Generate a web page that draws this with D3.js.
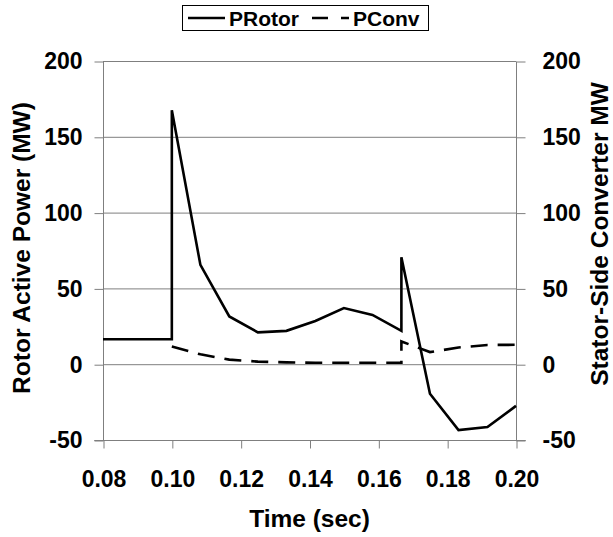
<!DOCTYPE html>
<html>
<head>
<meta charset="UTF-8">
<title>Rotor power</title>
<script src="https://d3js.org/d3.v7.min.js"></script>
<style>
  body { margin: 0; background: #fff; }
  text { font-family: "Liberation Sans", Arial, sans-serif; font-weight: bold; fill: #000; }
</style>
</head>
<body>
<div id="chart"></div>
<script>
// time samples (sec), spaced one half-cycle apart
const times = [0.08, 0.10, 0.10, 0.1083, 0.1167, 0.125, 0.1333, 0.1417, 0.15, 0.1583, 0.1667, 0.1667, 0.175, 0.1833, 0.1917, 0.20];
const pRotor = [16.5, 16.5, 167.5, 65.5, 31.5, 21, 22, 28.5, 37, 32.5, 22, 70.5, -19.5, -43.5, -41.5, -27.5];
const convTimes = [0.10, 0.1083, 0.1167, 0.125, 0.1333, 0.1417, 0.15, 0.1583, 0.1667, 0.1667, 0.175, 0.1833, 0.1917, 0.20];
const pConv = [11.6, 6.5, 3, 1.7, 1.2, 1, 1, 1, 1, 15, 8, 11, 12.7, 12.8];
const xTicks = [0.08, 0.10, 0.12, 0.14, 0.16, 0.18, 0.20];
const yTicks = [-50, 0, 50, 100, 150, 200];

const W = 613, H = 537;
const m = { left: 103, right: 97, top: 61, bottom: 97 };

const svg = d3.select("#chart").append("svg")
  .attr("width", W).attr("height", H);

const x = d3.scaleLinear().domain([0.08, 0.20]).range([m.left, W - m.right]);
const y = d3.scaleLinear().domain([-50, 200]).range([H - m.bottom, m.top]);
const y2 = d3.scaleLinear().domain([-50, 200]).range([H - m.bottom, m.top]);

const grey = "#7f7f7f";
const tickFont = "23px";
const titleFont = "24.5px";
const intFmt = d => String(d);   // plain hyphen for negatives

// horizontal gridlines
svg.append("g").selectAll("line").data(yTicks).join("line")
  .attr("x1", m.left).attr("x2", W - m.right)
  .attr("y1", d => y(d) + 0.5).attr("y2", d => y(d) + 0.5)
  .attr("stroke", grey).attr("stroke-width", 1);

// left axis
const gl = svg.append("g").attr("transform", `translate(${m.left + 0.5},0.5)`)
  .call(d3.axisLeft(y).tickValues(yTicks).tickSize(9).tickPadding(12).tickFormat(intFmt));
gl.selectAll("text").style("font-size", tickFont);

// right axis
const gr = svg.append("g").attr("transform", `translate(${W - m.right + 0.5},0.5)`)
  .call(d3.axisRight(y2).tickValues(yTicks).tickSize(9).tickPadding(17).tickFormat(intFmt));
gr.selectAll("text").style("font-size", tickFont);

// bottom axis
const gb = svg.append("g").attr("transform", `translate(0.5,${H - m.bottom + 0.5})`)
  .call(d3.axisBottom(x).tickValues(xTicks).tickSize(8).tickPadding(22).tickFormat(d3.format(".2f")));
gb.selectAll("text").style("font-size", tickFont);

svg.selectAll(".domain").attr("stroke", grey);
svg.selectAll(".tick line").attr("stroke", grey);
gl.select(".domain").attr("d", `M-9,${y(-50)}H0V${y(200)}`);
gr.select(".domain").attr("d", `M9,${y(-50)}H0V${y(200)}`);
gb.select(".domain").attr("d", `M${m.left - 9},0H${W - m.right + 9}`);

// series
svg.append("path")
  .datum(d3.zip(times, pRotor))
  .attr("d", d3.line().x(d => x(d[0])).y(d => y(d[1])))
  .attr("fill", "none").attr("stroke", "#000").attr("stroke-width", 2.6);
svg.append("path")
  .datum(d3.zip(convTimes, pConv))
  .attr("d", d3.line().x(d => x(d[0])).y(d => y2(d[1])))
  .attr("fill", "none").attr("stroke", "#000").attr("stroke-width", 2.6)
  .attr("stroke-dasharray", "17,10");

// axis titles
svg.append("text")
  .attr("transform", "translate(30,248) rotate(-90)")
  .attr("text-anchor", "middle").style("font-size", titleFont)
  .text("Rotor Active Power (MW)");
svg.append("text")
  .attr("transform", "translate(608,234) rotate(-90)")
  .attr("text-anchor", "middle").style("font-size", titleFont)
  .text("Stator-Side Converter MW");
svg.append("text")
  .attr("x", (m.left + W - m.right) / 2).attr("y", 527)
  .attr("text-anchor", "middle").style("font-size", titleFont)
  .text("Time (sec)");

// legend
const lg = svg.append("g").attr("transform", "translate(182,5)");
lg.append("rect").attr("x", 0.5).attr("y", 0.5).attr("width", 246).attr("height", 25)
  .attr("fill", "#fff").attr("stroke", "#000").attr("stroke-width", 1);
const series = ["PRotor", "PConv"];
const dashes = [null, "16,13"];
const lx = d3.scalePoint().domain(series).range([6, 130]);
series.forEach((s, i) => {
  lg.append("line").attr("x1", lx(s)).attr("x2", lx(s) + 37).attr("y1", 13).attr("y2", 13)
    .attr("stroke", "#000").attr("stroke-width", 2.5).attr("stroke-dasharray", dashes[i]);
  lg.append("text").attr("x", lx(s) + 41).attr("y", 21).style("font-size", "21px").text(s);
});
</script>
</body>
</html>
